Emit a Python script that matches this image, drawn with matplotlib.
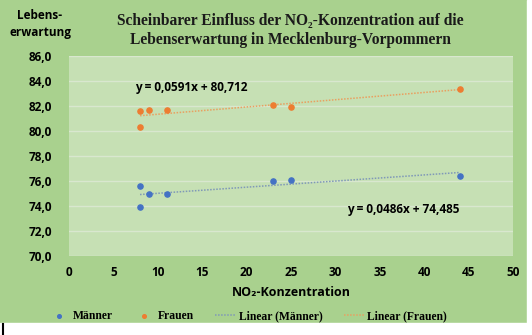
import numpy as np
import matplotlib.pyplot as plt

# data
no2_m = [8, 8, 9, 11, 23, 25, 44]
life_m = [75.6, 73.9, 75.0, 75.0, 76.0, 76.05, 76.4]
no2_f = [8, 8, 9, 11, 23, 25, 44]
life_f = [81.6, 80.3, 81.7, 81.7, 82.1, 81.95, 83.4]
eq_m = "y = 0,0486x + 74,485"
eq_f = "y = 0,0591x + 80,712"
yticks = np.arange(70, 87, 2)
xticks = np.arange(0, 51, 5)

blue = '#4472c4'
orange = '#ed7d31'
sans = ['Open Sans', 'DejaVu Sans']

fig = plt.figure(figsize=(5.32, 3.35), dpi=100)
fig.patch.set_facecolor('#a9d18e')
# white strips at right and bottom edge
fig.add_artist(plt.Rectangle((527 / 532, 0), 5 / 532, 1, transform=fig.transFigure,
                             color='white', zorder=-1))
fig.add_artist(plt.Rectangle((0, 0), 1, 12 / 335, transform=fig.transFigure,
                             color='white', zorder=-1))
fig.add_artist(plt.Line2D([3 / 532, 3 / 532], [0, 11 / 335], color='black', lw=1.5))

ax = fig.add_axes([69 / 532, 1 - 256 / 335, 444 / 532, 200 / 335])
ax.set_facecolor('#c6e0b4')

ax.scatter(no2_m, life_m, s=14, color=blue, zorder=3, label='Männer')
ax.scatter(no2_f, life_f, s=14, color=orange, zorder=3, label='Frauen')

# linear trend lines
xs = np.array([min(no2_m), max(no2_m)])
km, dm = np.polyfit(no2_m, life_m, 1)
kf, df = np.polyfit(no2_f, life_f, 1)
ax.plot(xs, km * xs + dm, ls=(0, (1, 1)), lw=1.1, color='#7f98b8', label='Linear (Männer)', zorder=2)
ax.plot(xs, kf * xs + df, ls=(0, (1, 1)), lw=1.1, color='#e9a060', label='Linear (Frauen)', zorder=2)

ax.text(7.4, 83.5, eq_f, fontsize=8.5, fontweight='bold', family=sans, va='center')
ax.text(31.3, 73.7, eq_m, fontsize=8.5, fontweight='bold', family=sans, va='center')

ax.set_xlim(0, 50)
ax.set_ylim(70, 86)
ax.set_xticks(xticks)
ax.set_yticks(yticks)
ax.set_yticklabels([f"{v:.1f}".replace('.', ',') for v in yticks])
for lab in ax.get_xticklabels() + ax.get_yticklabels():
    lab.set_fontweight('bold')
    lab.set_fontsize(8.5)
    lab.set_family(sans)
ax.tick_params(axis='y', length=0, pad=12)
ax.tick_params(axis='x', length=0, pad=7)
ax.grid(axis='y', color='#d9e7cf', lw=1)
ax.set_axisbelow(True)
for s in ax.spines.values():
    s.set_visible(False)

ax.set_xlabel('NO₂-Konzentration', fontsize=9, fontweight='bold', family=sans, labelpad=5)

fig.text(40 / 532, 1 - 24 / 335, 'Lebens-\nerwartung', ha='center', va='center',
         fontsize=8.5, fontweight='bold', family=sans, linespacing=1.35)
fig.text(290 / 532, 1 - 30 / 335,
         'Scheinbarer Einfluss der NO₂-Konzentration auf die\nLebenserwartung in Mecklenburg-Vorpommern',
         ha='center', va='center', fontsize=11.2, fontweight='bold', family='Liberation Serif',
         color='#1a1a1a', linespacing=1.25)

leg = fig.legend(loc='center', bbox_to_anchor=(248 / 532, 1 - 316 / 335), ncol=4, frameon=False,
                 prop={'family': 'Liberation Serif', 'weight': 'bold', 'size': 8.4},
                 handlelength=1.75, columnspacing=1.8, handletextpad=0.3, markerscale=0.7)

fig.savefig('out.png', dpi=100, facecolor=fig.get_facecolor())
